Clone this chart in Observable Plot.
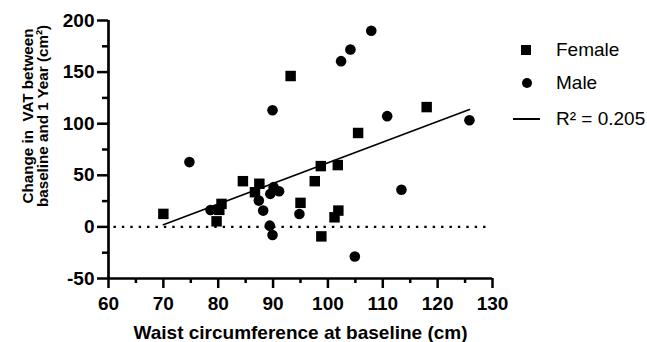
<!DOCTYPE html>
<html>
<head>
<meta charset="utf-8">
<script src="https://cdn.jsdelivr.net/npm/d3@7"></script>
<script src="https://cdn.jsdelivr.net/npm/@observablehq/plot@0.6"></script>
<style>
  html, body { margin: 0; padding: 0; background: #fff; }
  #wrap { position: relative; width: 647px; height: 342px; overflow: hidden; font-family: "Liberation Sans", Arial, sans-serif; }
  #wrap svg { position: absolute; left: 0; top: 0; }
  .lg { position: absolute; font-size: 19px; color: #000; line-height: 1; white-space: nowrap; }
  .sym { position: absolute; background: #000; }
</style>
</head>
<body>
<div id="wrap"></div>
<script>
// ---- data ----
const femaleX = [70.0, 79.7, 80.2, 80.6, 84.5, 86.7, 87.5, 93.2, 95.0, 97.6, 98.7, 98.8, 101.2, 101.9, 101.8, 105.5, 118.0];
const femaleY = [12.6, 5.4, 16.5, 22.3, 44.3, 33.6, 41.8, 146.2, 23.3, 44.3, 58.9, -9.2, 9.3, 15.8, 59.9, 91.0, 116.1];
const maleX = [74.75, 78.6, 87.4, 88.2, 89.5, 90.1, 91.1, 89.4, 89.9, 89.9, 94.8, 102.4, 104.1, 107.9, 104.9, 110.8, 113.4, 125.8];
const maleY = [62.8, 16.4, 25.5, 15.8, 32.0, 38.5, 34.6, 1.2, -7.9, 113.1, 12.5, 160.6, 171.9, 190.1, -28.7, 107.3, 36.0, 103.4];
const fitX = [70.0, 125.8];
const fitY = [2.1, 113.8];
const zeroLineX = [61, 129];
const xMajorTicks = [60, 70, 80, 90, 100, 110, 120, 130];
const xMinorTicks = [65, 75, 85, 95, 105, 115, 125];
const yMajorTicks = [-50, 0, 50, 100, 150, 200];
const yMinorTicks = [-25, 25, 75, 125, 175];
const xTitle = "Waist circumference at baseline (cm)";
const yTitle = "Change in\u00a0\u00a0VAT between\nbaseline and 1 Year (cm\u00b2)";
const legendLabels = ["Female", "Male", "R\u00b2 = 0.205"];

const female = femaleX.map((x, i) => ({x, y: femaleY[i]}));
const male = maleX.map((x, i) => ({x, y: maleY[i]}));
const fit = fitX.map((x, i) => ({x, y: fitY[i]}));

const font = "Liberation Sans, Arial, sans-serif";
const tickFont = {fontSize: 19, fontWeight: "bold", fontFamily: font};

const chart = Plot.plot({
  width: 647,
  height: 342,
  marginLeft: 108,
  marginRight: 155,
  marginTop: 20,
  marginBottom: 64,
  style: {fontFamily: font, fontSize: "19px", fontWeight: "bold", color: "#000", background: "transparent"},
  x: {domain: [60, 130]},
  y: {domain: [-50, 200]},
  marks: [
    Plot.ruleY([0], {x1: zeroLineX[0], x2: zeroLineX[1], stroke: "#000", strokeWidth: 2.4, strokeDasharray: "2.4,6"}),
    Plot.line(fit, {x: "x", y: "y", stroke: "#000", strokeWidth: 1.6}),
    Plot.dot(female, {x: "x", y: "y", symbol: "square", r: 5.9, fill: "#000", stroke: "none"}),
    Plot.dot(male, {x: "x", y: "y", symbol: "circle", r: 5.3, fill: "#000", stroke: "none"}),
    Plot.axisX({ticks: xMinorTicks, tickSize: 5, strokeWidth: 2.5, tickFormat: () => "", label: null}),
    Plot.axisX({ticks: xMajorTicks, tickSize: 10, tickPadding: 8, strokeWidth: 2.5, tickFormat: d => String(d), label: null, ...tickFont}),
    Plot.axisY({ticks: yMinorTicks, tickSize: 6, strokeWidth: 2.5, tickFormat: () => "", label: null}),
    Plot.axisY({ticks: yMajorTicks, tickSize: 11, tickPadding: 3, strokeWidth: 2.5, tickFormat: d => String(d), label: null, ...tickFont}),
    Plot.ruleX([60], {y1: -50, y2: 200, stroke: "#000", strokeWidth: 2.7}),
    Plot.ruleY([-50], {x1: 60, x2: 130, stroke: "#000", strokeWidth: 2.7}),
    Plot.text([xTitle], {text: d => d, frameAnchor: "bottom", dy: 54.5, lineAnchor: "middle", textAnchor: "middle", fontSize: 19, fontWeight: "bold", fill: "#000"}),
    Plot.text([yTitle], {text: d => d, frameAnchor: "left", textAnchor: "middle", rotate: -90, dx: -73, dy: -33.5, lineAnchor: "middle", lineHeight: 1.0, fontSize: 15.2, fontWeight: "bold", fill: "#000"})
  ]
});

const wrap = document.getElementById("wrap");
wrap.appendChild(chart);

// legend (HTML, placed to the right of the plot)
function addText(txt, left, cy) {
  const d = document.createElement("div");
  d.className = "lg";
  d.textContent = txt;
  d.style.left = left + "px";
  d.style.top = (cy - 10) + "px";
  wrap.appendChild(d);
}
function addSym(cx, cy, w, h, radius) {
  const s = document.createElement("div");
  s.className = "sym";
  s.style.left = (cx - w / 2) + "px";
  s.style.top = (cy - h / 2) + "px";
  s.style.width = w + "px";
  s.style.height = h + "px";
  if (radius) s.style.borderRadius = radius;
  wrap.appendChild(s);
}
addSym(526, 50, 10, 10);
addText(legendLabels[0], 556, 50);
addSym(527, 83, 10, 10, "50%");
addText(legendLabels[1], 556, 83);
addSym(526.5, 119, 27, 1.6);
addText(legendLabels[2], 556, 119);
</script>
</body>
</html>
